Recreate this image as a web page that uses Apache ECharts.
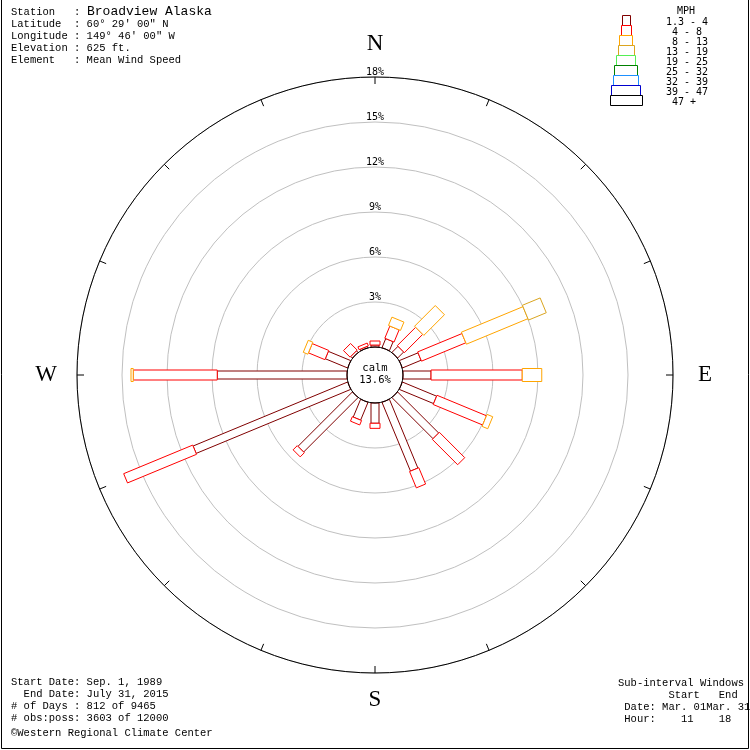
<!DOCTYPE html>
<html><head><meta charset="utf-8">
<script src="https://cdn.jsdelivr.net/npm/echarts@6/dist/echarts.min.js"></script>
<style>html,body{margin:0;padding:0;background:#fff}#c{width:750px;height:750px}</style>
</head><body><div id="c"></div>
<script>
// ---------------- DATA ----------------
const directions = ['N','NNE','NE','ENE','E','ESE','SE','SSE','S','SSW','SW','WSW','W','WNW','NW','NNW'];
const directionAngles = [0,22.5,45,67.5,90,112.5,135,157.5,180,202.5,225,247.5,270,292.5,315,337.5];
const speedClasses = ['1.3 - 4',' 4 - 8',' 8 - 13','13 - 19','19 - 25','25 - 32','32 - 39','39 - 47',' 47 +'];
// percent of observations, per direction, for each speed class (mph)
const mph_1_4   = [0.13,0.65,0.57,1.35,1.87,2.47,3.87,4.96,1.35,1.28,5.13,11.15,8.65,1.61,0.15,0.10];
const mph_4_8   = [0.27,0.88,1.73,3.20,6.08,3.57,2.39,1.18,0.34,0.32,0.39,4.98,5.60,1.19,0.62,0.20];
const mph_8_13  = [0,0.60,1.95,4.44,1.30,0.41,0,0,0,0,0,0,0.15,0.33,0,0];
const mph_13_19 = [0,0,0,1.28,0,0,0,0,0,0,0,0,0,0,0,0];
const mph_19_25 = [0,0,0,0,0,0,0,0,0,0,0,0,0,0,0,0];
const mph_25_32 = [0,0,0,0,0,0,0,0,0,0,0,0,0,0,0,0];
const mph_32_39 = [0,0,0,0,0,0,0,0,0,0,0,0,0,0,0,0];
const mph_39_47 = [0,0,0,0,0,0,0,0,0,0,0,0,0,0,0,0];
const mph_47_up = [0,0,0,0,0,0,0,0,0,0,0,0,0,0,0,0];
const calmPercent = 13.6;
const ringTicks = [3,6,9,12,15,18];
const cardinalLabels = {0:'N',90:'E',180:'S',270:'W'};

// ---------------- STYLE ----------------
const classColors = ['#800000','#ff0000','#ffa500','#daa520','#55ee55','#008000','#1e90ff','#0000cd','#000000'];
const classWidths = [8,10,13,16,19,23,25,29,32];
const monoFont = 'Liberation Mono';
const smallFont = 'DejaVu Sans Mono';

const classSeries = [mph_1_4,mph_4_8,mph_8_13,mph_13_19,mph_19_25,mph_25_32,mph_32_39,mph_39_47,mph_47_up];
const petalData = [];
directions.forEach((d,i)=>{
  let start = 0;
  classSeries.forEach((arr,k)=>{
    const v = arr[i];
    if (v > 0) { petalData.push([start+v, directionAngles[i], start, k]); start += v; }
  });
});

const chart = echarts.init(document.getElementById('c'), null, {renderer:'canvas'});

const F = (px, fam)=> px+'px "'+fam+'"';
const graphics = [];
// border
graphics.push({type:'line', shape:{x1:1.5,y1:0,x2:1.5,y2:748.5}, style:{stroke:'#000',lineWidth:1}});
graphics.push({type:'line', shape:{x1:748.5,y1:0,x2:748.5,y2:748.5}, style:{stroke:'#000',lineWidth:1}});
graphics.push({type:'line', shape:{x1:1.5,y1:748.5,x2:748.5,y2:748.5}, style:{stroke:'#000',lineWidth:1}});
// header
graphics.push({type:'text', x:11, y:12, style:{text:'Station   :', font:F(10.5,monoFont), fill:'#000', verticalAlign:'middle'}});
graphics.push({type:'text', x:87, y:12, style:{text:'Broadview Alaska', font:F(13,monoFont), fill:'#000', verticalAlign:'middle'}});
['Latitude  : 60° 29\' 00" N','Longitude : 149° 46\' 00" W','Elevation : 625 ft.','Element   : Mean Wind Speed'].forEach((t,i)=>{
  graphics.push({type:'text', x:11, y:24+12*i, style:{text:t, font:F(10.5,monoFont), fill:'#000', verticalAlign:'middle'}});
});
// bottom left
['Start Date: Sep. 1, 1989','  End Date: July 31, 2015','# of Days : 812 of 9465','# obs:poss: 3603 of 12000','©Western Regional Climate Center'].forEach((t,i)=>{
  graphics.push({type:'text', x:11, y:682+12*i+(i===4?3:0), style:{text:t, font:F(10.5,monoFont), fill:'#000', verticalAlign:'middle'}});
});
// bottom right
['Sub-interval Windows','        Start   End',' Date: Mar. 01Mar. 31',' Hour:    11    18'].forEach((t,i)=>{
  graphics.push({type:'text', x:618, y:683+12*i, style:{text:t, font:F(10.5,monoFont), fill:'#000', verticalAlign:'middle'}});
});
// legend
graphics.push({type:'text', x:686, y:11, style:{text:'MPH', font:F(10,smallFont), fill:'#000', align:'center', verticalAlign:'middle'}});
speedClasses.forEach((s,k)=>{
  const w = classWidths[k];
  const x0 = Math.round(625.5 - w/2) + 0.5;
  graphics.push({type:'rect', shape:{x:x0, y:15.5+10*k, width:w, height:10}, style:{fill:'none', stroke:classColors[k], lineWidth:1}});
  graphics.push({type:'text', x:666, y:22.5+10*k, style:{text:s, font:F(10,smallFont), fill:'#000', verticalAlign:'middle'}});
});
// calm
graphics.push({type:'text', x:375, y:368, style:{text:'calm', font:F(10.5,smallFont), fill:'#000', align:'center', verticalAlign:'middle'}, z:100});
graphics.push({type:'text', x:375, y:380, style:{text:calmPercent.toFixed(1)+'%', font:F(10.5,smallFont), fill:'#000', align:'center', verticalAlign:'middle'}, z:100});

const cardStyle = {fontFamily:'Liberation Serif', fontSize:23, color:'#000'};
const option = {
  animation:false,
  backgroundColor:'#fff',
  polar:{center:[375,375], radius:[28,298]},
  angleAxis:{
    type:'value', min:0, max:360, interval:22.5, startAngle:90, clockwise:true, z:10,
    axisLine:{show:true, lineStyle:{color:'#000', width:1}},
    axisTick:{show:true, inside:true, length:7, lineStyle:{color:'#000', width:1}},
    axisLabel:{show:true, margin:15, fontFamily:'Liberation Serif', fontSize:23, color:'#000',
      formatter:(v)=> (cardinalLabels[v] !== undefined && v!==360) ? '{'+cardinalLabels[v].toLowerCase()+'|'+cardinalLabels[v]+'}' : '',
      rich:{
        n:Object.assign({padding:[0,0,7,0]}, cardStyle),
        e:Object.assign({padding:[0,0,0,10]}, cardStyle),
        s:Object.assign({padding:[0,0,0,0]}, cardStyle),
        w:Object.assign({padding:[0,5,0,0]}, cardStyle)
      }},
    splitLine:{show:false}
  },
  radiusAxis:{
    type:'value', min:0, max:18, interval:3,
    axisLine:{show:false}, axisTick:{show:false},
    axisLabel:{show:true, margin:0, align:'center', verticalAlign:'bottom', rotate:0,
      fontFamily:smallFont, fontSize:10, color:'#000', showMinLabel:false,
      formatter:(v)=> ringTicks.indexOf(v)>=0 ? v+'%' : ''},
    splitLine:{show:true, lineStyle:{color:'#c0c0c0', width:1}}
  },
  series:[{
    type:'custom', coordinateSystem:'polar', data:petalData, z:5,
    renderItem:(params, api)=>{
      const rEnd = api.value(0), ang = api.value(1), rStart = api.value(2), k = api.value(3);
      const a = api.coord([rStart, ang]);
      const b = api.coord([rEnd, ang]);
      const cs = params.coordSys;
      let ux = b[0]-cs.cx, uy = b[1]-cs.cy;
      const len = Math.hypot(ux,uy) || 1; ux/=len; uy/=len;
      const hw = classWidths[k]/2, px = -uy*hw, py = ux*hw;
      return {type:'polygon', shape:{points:[[a[0]+px,a[1]+py],[b[0]+px,b[1]+py],[b[0]-px,b[1]-py],[a[0]-px,a[1]-py]]},
        style:{fill:'#fff', stroke:classColors[k], lineWidth:1}};
    }
  }],
  graphic:{elements:graphics}
};
chart.setOption(option);
</script></body></html>
